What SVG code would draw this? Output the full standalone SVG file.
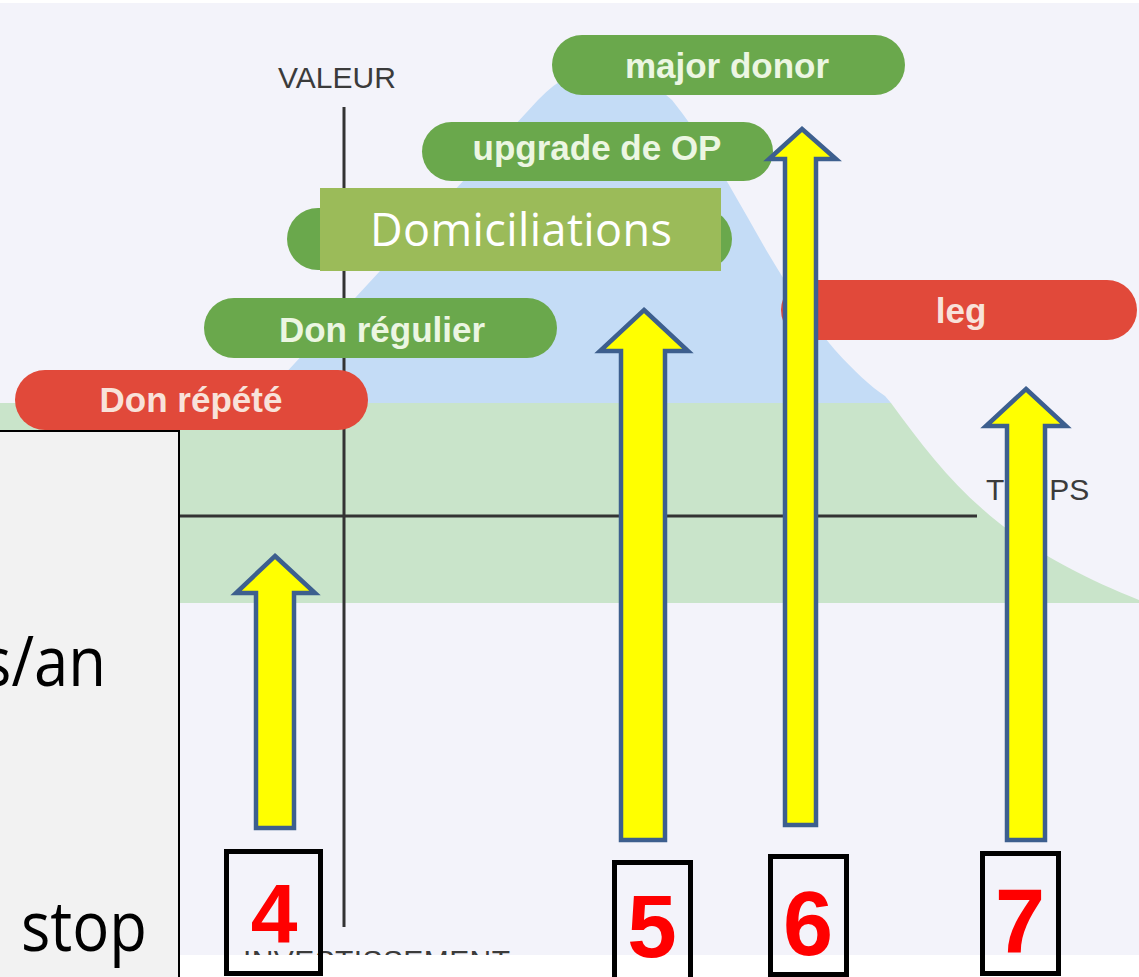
<svg xmlns="http://www.w3.org/2000/svg" width="1139" height="977" viewBox="0 0 1139 977">
<defs>
<style>
.pillG{fill:#6aa84c}
.pillR{fill:#e1493a}
.pt{font-family:"Liberation Sans",Arial,sans-serif;font-weight:bold;font-size:35px;text-anchor:middle}
.ptG{fill:#ecf6e2}
.ptR{fill:#f8e2da}
.axis{stroke:#333;stroke-width:3;fill:none}
.axt{font-family:"Liberation Sans",Arial,sans-serif;font-size:30px;fill:#3b3b3b}
.arr{fill:#ffff00;stroke:#3d5f8e;stroke-width:4.5;stroke-linejoin:miter}
.nb{fill:none;stroke:#000;stroke-width:5}
.num{font-family:"Liberation Sans",Arial,sans-serif;font-weight:bold;fill:#ff0000;text-anchor:middle}
.side{font-family:"Open Sans","Liberation Sans",sans-serif;font-size:70px;fill:#000}
</style>
<clipPath id="photo"><rect x="0" y="0" width="1139" height="955"/></clipPath>
</defs>
<rect x="0" y="0" width="1139" height="977" fill="#ffffff"/>
<g id="background">
<rect x="0" y="3" width="1139" height="952" fill="#f3f3fa"/>
<path d="M258,403 L538,100 Q600,35 672,100 C700,135 722,172 748,218 C778,272 805,315 835,350 C855,372 870,386 885,396 L891,403 Z" fill="#c4dcf6"/>
<path d="M0,403 L891,403 C950,484 1000,545 1139,600 L1139,603 L0,603 Z" fill="#c9e4ca"/>
</g>
<g id="axes">
<line class="axis" x1="344" y1="107" x2="344" y2="927"/>
<line class="axis" x1="179" y1="516" x2="977" y2="516"/>
<text class="axt" x="278" y="88" font-size="29">VALEUR</text>
<text class="axt" x="986" y="500">TEMPS</text>
<text class="axt" x="243" y="971" textLength="267" clip-path="url(#photo)">INVESTISSEMENT</text>
</g>
<g id="node-major-donor">
<rect class="pillG" x="552" y="35" width="353" height="60" rx="30"/>
<text class="pt ptG" x="727" y="78">major donor</text>
</g>
<g id="node-upgrade">
<rect class="pillG" x="422" y="122" width="351" height="59" rx="29.5"/>
<text class="pt ptG" x="597" y="160">upgrade de OP</text>
</g>
<g id="node-hidden-pill">
<rect class="pillG" x="287" y="208" width="445" height="62" rx="31"/>
</g>
<g id="node-domiciliations">
<rect x="320" y="188" width="401" height="83" fill="#9bbb59"/>
<text x="521" y="246" font-family="'Open Sans','Liberation Sans',sans-serif" font-size="45" fill="#ffffff" text-anchor="middle" textLength="302">Domiciliations</text>
</g>
<g id="node-don-regulier">
<rect class="pillG" x="204" y="298" width="353" height="60" rx="30"/>
<text class="pt ptG" x="382" y="342">Don régulier</text>
</g>
<g id="node-don-repete">
<rect class="pillR" x="15" y="370" width="353" height="60" rx="30"/>
<text class="pt ptR" x="191" y="412">Don répété</text>
</g>
<g id="node-leg">
<rect class="pillR" x="781" y="280" width="356" height="60" rx="30"/>
<text class="pt ptR" x="961" y="323">leg</text>
</g>
<g id="node-sidebox">
<rect x="-10" y="431" width="189" height="560" fill="#f2f2f2" stroke="#000" stroke-width="2"/>
<text class="side" transform="translate(106,686) scale(0.88,1)" x="0" y="0" text-anchor="end">s/an</text>
<text class="side" x="21" y="951" textLength="126" lengthAdjust="spacingAndGlyphs">stop</text>
</g>
<g id="connectors">
<path class="arr" d="M275,556 L315,593 L294,593 L294,828 L256,828 L256,593 L236,593 Z"/>
<path class="arr" d="M644,310 L688,351 L665,351 L665,840 L621,840 L621,351 L600,351 Z"/>
<path class="arr" d="M802,129 L836,159 L816,159 L816,825 L785,825 L785,159 L769,159 Z"/>
<path class="arr" d="M1026,389 L1066,426 L1045,426 L1045,840 L1007,840 L1007,426 L986,426 Z"/>
</g>
<g id="node-4">
<rect class="nb" x="226.5" y="851.5" width="94" height="122"/>
<text class="num" x="274" y="943" font-size="84">4</text>
</g>
<g id="node-5">
<rect class="nb" x="614.5" y="862.5" width="76" height="125"/>
<text class="num" x="652" y="957" font-size="89">5</text>
</g>
<g id="node-6">
<rect class="nb" x="770.5" y="856.5" width="76" height="118"/>
<text class="num" x="808" y="955" font-size="90">6</text>
</g>
<g id="node-7">
<rect class="nb" x="982.5" y="853.5" width="76" height="120"/>
<text class="num" x="1020" y="952" font-size="90">7</text>
</g>
</svg>
